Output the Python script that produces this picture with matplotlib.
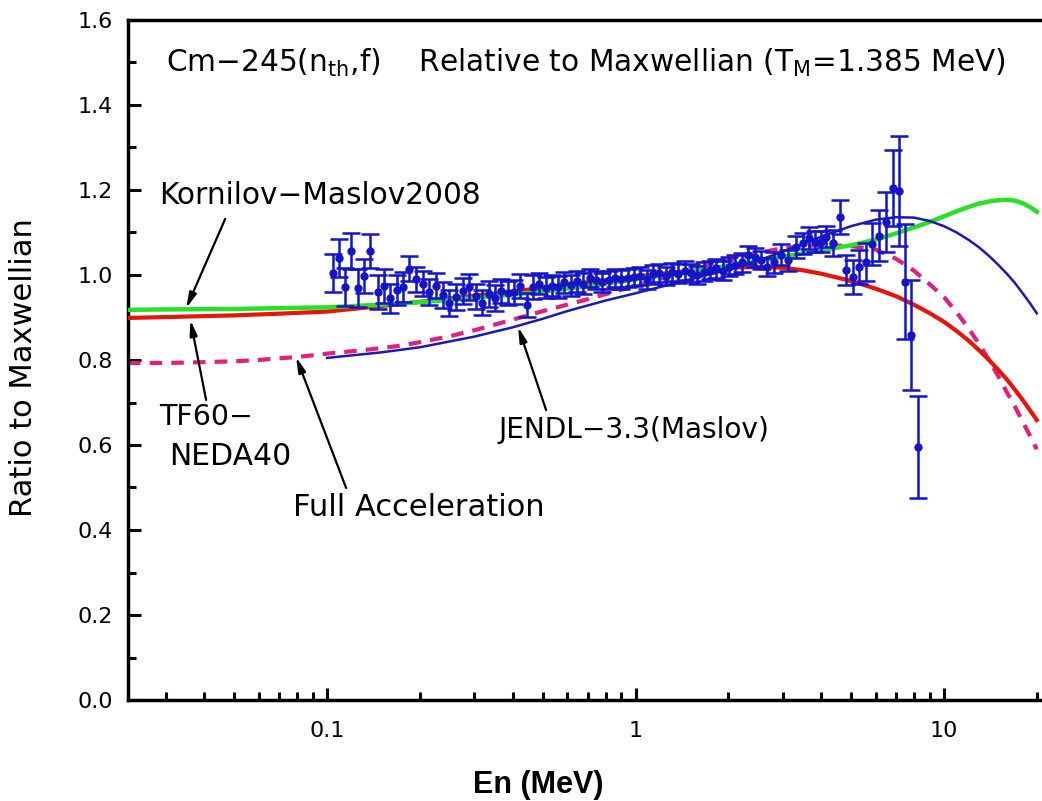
import numpy as np
import matplotlib
matplotlib.use("Agg")
import matplotlib.pyplot as plt
from matplotlib.ticker import FixedLocator, LogLocator, NullFormatter

plt.rcParams["font.family"] = ["DejaVu Sans"]
plt.rcParams["mathtext.default"] = "regular"

# measured ratio to Maxwellian (energy in MeV, value, 1-sigma)
exp_e = [0.1045, 0.1093, 0.1144, 0.1196, 0.1260, 0.1318, 0.1378, 0.1463, 0.1530, 0.1600,
         0.1686, 0.1763, 0.1844, 0.1943, 0.2047, 0.2141, 0.2256, 0.2377, 0.2485, 0.2619,
         0.2759, 0.2886, 0.3041, 0.3180, 0.3350, 0.3503, 0.3664, 0.3861, 0.4038, 0.4222,
         0.4449, 0.4653, 0.4866, 0.5127, 0.5362, 0.5607, 0.5863, 0.6178, 0.6461, 0.6757,
         0.7120, 0.7446, 0.7787, 0.8205, 0.8581, 0.8974, 0.9456, 0.9888, 1.034, 1.090,
         1.139, 1.192, 1.256, 1.313, 1.373, 1.447, 1.513, 1.582, 1.667, 1.744,
         1.824, 1.921, 2.010, 2.101, 2.214, 2.316, 2.440, 2.551, 2.669, 2.812,
         2.962, 3.121, 3.313, 3.491, 3.651, 3.818, 3.993, 4.145, 4.367, 4.602,
         4.812, 5.070, 5.303, 5.587, 5.842, 6.155, 6.486, 6.834, 7.147, 7.474,
         7.816, 8.235]
exp_r = [1.005, 1.040, 0.972, 1.056, 0.969, 0.997, 1.056, 0.960, 0.975, 0.945,
         0.965, 0.972, 1.015, 0.990, 0.980, 0.960, 0.975, 0.953, 0.934, 0.948,
         0.962, 0.972, 0.950, 0.935, 0.955, 0.946, 0.962, 0.957, 0.960, 0.975,
         0.930, 0.972, 0.980, 0.970, 0.975, 0.972, 0.983, 0.976, 0.985, 0.980,
         0.993, 0.988, 0.983, 0.988, 0.993, 0.990, 0.993, 0.995, 0.998, 0.990,
         1.002, 1.005, 0.998, 1.007, 1.003, 1.010, 1.005, 1.000, 1.008, 1.012,
         1.016, 1.010, 1.020, 1.024, 1.030, 1.047, 1.042, 1.035, 1.019, 1.030,
         1.048, 1.035, 1.066, 1.075, 1.087, 1.078, 1.078, 1.090, 1.075, 1.137,
         1.012, 0.995, 1.019, 1.031, 1.073, 1.092, 1.125, 1.205, 1.198, 0.984,
         0.859, 0.595]
exp_err = [0.045, 0.045, 0.045, 0.043, 0.045, 0.040, 0.040, 0.040, 0.040, 0.035,
           0.035, 0.035, 0.030, 0.030, 0.030, 0.030, 0.030, 0.030, 0.030, 0.030,
           0.030, 0.030, 0.030, 0.030, 0.030, 0.030, 0.028, 0.028, 0.028, 0.028,
           0.028, 0.028, 0.025, 0.025, 0.025, 0.025, 0.025, 0.025, 0.025, 0.025,
           0.022, 0.022, 0.022, 0.022, 0.022, 0.022, 0.022, 0.022, 0.022, 0.022,
           0.022, 0.022, 0.022, 0.022, 0.022, 0.022, 0.022, 0.022, 0.022, 0.022,
           0.022, 0.022, 0.022, 0.022, 0.022, 0.022, 0.022, 0.022, 0.022, 0.025,
           0.025, 0.025, 0.025, 0.025, 0.025, 0.025, 0.025, 0.025, 0.030, 0.040,
           0.035, 0.040, 0.040, 0.045, 0.050, 0.060, 0.070, 0.090, 0.130, 0.135,
           0.130, 0.120]

# Kornilov-Maslov2008
km_e = [0.0226, 0.03, 0.05, 0.07, 0.1, 0.15, 0.2, 0.3, 0.4, 0.5, 0.7, 1.0, 1.5, 2.0, 2.5,
        3.0, 4.0, 5.0, 6.0, 7.0, 8.0, 9.0, 10, 11, 12, 13, 14, 15, 16, 17, 18, 19, 20]
km_r = [0.918, 0.919, 0.920, 0.922, 0.924, 0.930, 0.936, 0.946, 0.954, 0.961, 0.974, 0.990,
        1.008, 1.022, 1.033, 1.043, 1.058, 1.070, 1.083, 1.098, 1.112, 1.125, 1.138, 1.150,
        1.160, 1.168, 1.173, 1.176, 1.177, 1.175, 1.169, 1.160, 1.149]

# TF60-NEDA40
tf_e = [0.0226, 0.03, 0.05, 0.07, 0.1, 0.15, 0.2, 0.3, 0.4, 0.5, 0.7, 1.0, 1.5, 2.0, 2.5,
        3.0, 3.5, 4.0, 5.0, 6.0, 7.0, 8.0, 9.0, 10, 11, 12, 13, 14, 15, 16, 17, 18, 19, 20]
tf_r = [0.899, 0.901, 0.905, 0.909, 0.914, 0.927, 0.937, 0.951, 0.961, 0.970, 0.983, 0.996,
        1.010, 1.017, 1.019, 1.017, 1.011, 1.003, 0.986, 0.968, 0.950, 0.930, 0.910, 0.890,
        0.868, 0.846, 0.823, 0.800, 0.777, 0.754, 0.730, 0.706, 0.682, 0.659]

# Full Acceleration
fa_e = [0.0226, 0.03, 0.04, 0.05, 0.06, 0.07, 0.08, 0.1, 0.13, 0.17, 0.2, 0.25, 0.3, 0.4,
        0.5, 0.7, 1.0, 1.5, 2.0, 2.5, 3.0, 4.0, 5.0, 6.0, 7.0, 8.0, 9.0, 10, 11, 12, 13,
        14, 15, 16, 17, 18, 19, 20]
fa_r = [0.793, 0.793, 0.795, 0.797, 0.800, 0.804, 0.807, 0.815, 0.823, 0.833, 0.842, 0.856,
        0.870, 0.895, 0.915, 0.943, 0.975, 1.010, 1.035, 1.052, 1.063, 1.071, 1.068, 1.060,
        1.038, 1.010, 0.978, 0.948, 0.912, 0.875, 0.838, 0.800, 0.762, 0.724, 0.690, 0.655,
        0.622, 0.590]

# JENDL-3.3 (Maslov)
jd_e = [0.1, 0.15, 0.2, 0.3, 0.4, 0.5, 0.6, 0.8, 1.0, 1.3, 1.6, 2.0, 2.5, 3.0, 3.5, 4.0,
        5.0, 6.0, 7.0, 8.0, 9.0, 10, 11, 12, 13, 14, 15, 16, 17, 18, 19, 20]
jd_r = [0.805, 0.818, 0.830, 0.855, 0.877, 0.897, 0.915, 0.940, 0.957, 0.978, 0.995, 1.012,
        1.034, 1.055, 1.074, 1.090, 1.115, 1.130, 1.136, 1.135, 1.127, 1.115, 1.100, 1.083,
        1.065, 1.045, 1.024, 1.003, 0.981, 0.957, 0.934, 0.910]

W, H = 1042, 801
fig = plt.figure(figsize=(W / 100, H / 100), dpi=100)
ax = fig.add_axes([128 / W, 101 / H, (W - 128) / W, 680 / H])

ax.plot(fa_e, fa_r, color="#e0207c", lw=3.0, dashes=(3, 2.2), zorder=2)
ax.plot(tf_e, tf_r, color="#e8140c", lw=3.0, zorder=3)
ax.plot(km_e, km_r, color="#28e028", lw=3.2, zorder=4)
ax.plot(jd_e, jd_r, color="#1a1aae", lw=1.8, zorder=5)
ax.errorbar(exp_e, exp_r, yerr=exp_err, fmt="o", ms=5, color="#1414c8",
            ecolor="#1414c8", elinewidth=1.8, capsize=6.5, capthick=1.8, zorder=6)

ax.set_xscale("log")
ax.set_xlim(0.0226, 20.8)
ax.set_ylim(0.0, 1.6)

ax.xaxis.set_major_locator(FixedLocator([0.1, 1, 10]))
ax.set_xticklabels(["0.1", "1", "10"])
ax.xaxis.set_minor_locator(LogLocator(base=10, subs=np.arange(2, 10)))
ax.xaxis.set_minor_formatter(NullFormatter())
ax.set_yticks(np.arange(0, 1.61, 0.2))
ax.set_yticklabels(["%.1f" % v for v in np.arange(0, 1.61, 0.2)])
ax.set_yticks(np.arange(0.1, 1.6, 0.2), minor=True)

ax.tick_params(which="both", direction="in", width=2.2, labelsize=16, color="black")
ax.tick_params(axis="x", which="major", length=9, pad=15)
ax.tick_params(axis="x", which="minor", length=5.5)
ax.tick_params(axis="y", which="major", length=9, pad=11)
ax.tick_params(axis="y", which="minor", length=5.5)
ax.tick_params(top=False, right=False, which="both")

for side in ["left", "bottom", "top"]:
    ax.spines[side].set_linewidth(2.5)
ax.spines["right"].set_visible(False)

ax.text(0.0301, 1.5,
        "Cm\u2212245(n$_{th}$,f)    Relative to Maxwellian (T$_{M}$=1.385 MeV)",
        fontsize=21.3, va="center", ha="left")

arrow = dict(arrowstyle="-|>,head_length=0.9,head_width=0.22", color="black",
             lw=1.6, shrinkA=0, shrinkB=0)
ax.text(0.0285, 1.188, "Kornilov\u2212Maslov2008", fontsize=21.3, va="center", ha="left")
ax.annotate("", xy=(0.0349, 0.922), xytext=(0.0467, 1.132), arrowprops=arrow)

ax.text(0.0285, 0.666, "TF60\u2212", fontsize=20.5, va="center", ha="left")
ax.text(0.0308, 0.572, "NEDA40", fontsize=21.5, va="center", ha="left")
ax.annotate("", xy=(0.036, 0.894), xytext=(0.0405, 0.706), arrowprops=arrow)

ax.text(0.0776, 0.452, "Full Acceleration", fontsize=22, va="center", ha="left")
ax.annotate("", xy=(0.0793, 0.807), xytext=(0.1152, 0.499), arrowprops=arrow)

ax.text(0.358, 0.635, "JENDL\u22123.3(Maslov)", fontsize=20.2, va="center", ha="left")
ax.annotate("", xy=(0.416, 0.878), xytext=(0.513, 0.682), arrowprops=arrow)

fig.text(24 / W, 1 - 368 / H, "Ratio to Maxwellian", rotation=90, fontsize=22,
         ha="center", va="center")
fig.text(538 / W, 1 - 785 / H, "En (MeV)", fontsize=22, fontweight="bold",
         family=["Liberation Sans", "DejaVu Sans"], ha="center", va="center")

fig.savefig("out.png", dpi=100)
